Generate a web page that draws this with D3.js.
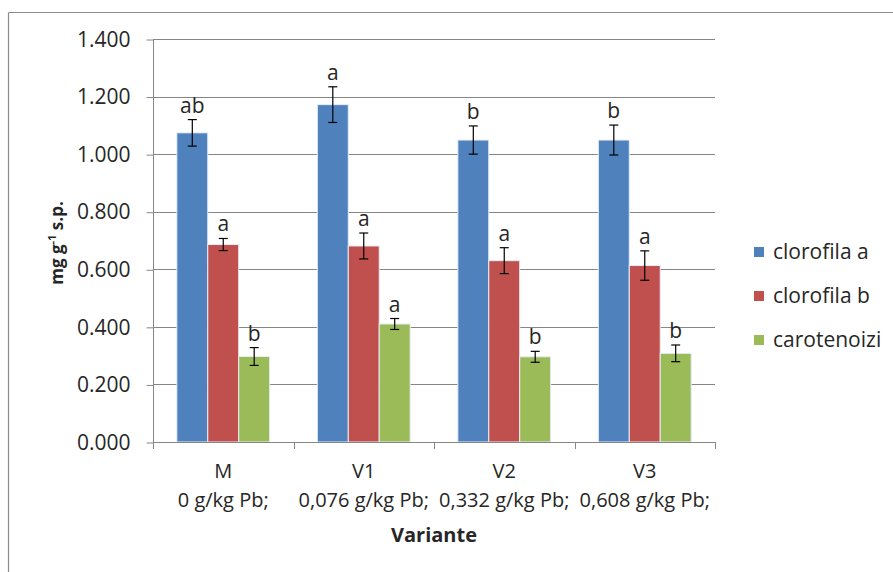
<!DOCTYPE html>
<html>
<head>
<meta charset="utf-8">
<script src="https://cdn.jsdelivr.net/npm/d3@7"></script>
<style>
  body { margin: 0; background: #fff; }
  svg { display: block; }
  text { font-family: "Open Sans", "Noto Sans", sans-serif; fill: #262626; }
</style>
</head>
<body>
<svg id="chart" width="893" height="572"></svg>
<script>
// Pigment content per treatment variant (mg g-1 s.p.)
const variants = ["M", "V1", "V2", "V3"];
const doses = ["0 g/kg Pb;", "0,076 g/kg Pb;", "0,332 g/kg Pb;", "0,608 g/kg Pb;"];
const seriesNames = ["clorofila a", "clorofila b", "carotenoizi"];
const seriesColors = ["#4F81BD", "#C0504D", "#9BBB59"];

const clorofilaA = [1.074, 1.172, 1.049, 1.049];
const clorofilaB = [0.686, 0.681, 0.630, 0.613];
const carotenoizi = [0.297, 0.410, 0.296, 0.308];

const errA = [0.046, 0.062, 0.049, 0.052];
const errB = [0.021, 0.045, 0.045, 0.051];
const errC = [0.031, 0.019, 0.019, 0.029];

const lettersA = ["ab", "a", "b", "b"];
const lettersB = ["a", "a", "a", "a"];
const lettersC = ["b", "a", "b", "b"];

const yTicks = [0, 0.2, 0.4, 0.6, 0.8, 1.0, 1.2, 1.4];

const values = [clorofilaA, clorofilaB, carotenoizi];
const errors = [errA, errB, errC];
const letters = [lettersA, lettersB, lettersC];

const svg = d3.select("#chart");

// chart area frame (top and left edges)
svg.append("line").attr("x1", 8.5).attr("x2", 893).attr("y1", 12.5).attr("y2", 12.5)
  .attr("stroke", "#8c8c8c").attr("stroke-width", 1.2);
svg.append("line").attr("x1", 8.5).attr("x2", 8.5).attr("y1", 12.5).attr("y2", 572)
  .attr("stroke", "#8c8c8c").attr("stroke-width", 1.2);

const plot = { left: 153, right: 715, top: 39, bottom: 442 };

const x = d3.scaleBand().domain(variants).range([plot.left, plot.right]).paddingInner(0).paddingOuter(0);
const xs = d3.scaleBand().domain(seriesNames).range([0, x.bandwidth()]).paddingInner(0).paddingOuter(0.77);
const y = d3.scaleLinear().domain([0, 1.4]).range([plot.bottom, plot.top]);

// gridlines
svg.append("g").selectAll("line").data(yTicks.filter(t => t > 0)).join("line")
  .attr("x1", plot.left).attr("x2", plot.right)
  .attr("y1", d => Math.round(y(d)) + 0.5).attr("y2", d => Math.round(y(d)) + 0.5)
  .attr("stroke", "#868686").attr("stroke-width", 1);

// y axis
const yAxis = d3.axisLeft(y).tickValues(yTicks).tickSize(7).tickPadding(16)
  .tickFormat(d => d3.format(".3f")(d));
const gy = svg.append("g").attr("transform", `translate(${plot.left + 0.5},0.5)`).call(yAxis);
gy.select(".domain").attr("stroke", "#868686").attr("d", `M0,${plot.top - 0.5}V${plot.bottom - 0.5}`);
gy.selectAll(".tick line").attr("stroke", "#868686");
gy.selectAll(".tick text").attr("font-size", 21).attr("fill", "#262626")
  .style("font-family", '"Open Sans", sans-serif');

// bars
const groups = svg.append("g").selectAll("g").data(variants).join("g")
  .attr("transform", d => `translate(${x(d)},0)`);

seriesNames.forEach((s, si) => {
  groups.append("rect")
    .attr("x", (d) => xs(s))
    .attr("width", xs.bandwidth())
    .attr("y", (d, i) => y(values[si][i]))
    .attr("height", (d, i) => y(0) - y(values[si][i]))
    .attr("fill", seriesColors[si])
    .attr("stroke", "#e6eef8").attr("stroke-width", 1);
});

// x axis
const xAxis = d3.axisBottom(x).tickSize(0).tickFormat("");
const gx = svg.append("g").attr("transform", `translate(0,${plot.bottom + 0.5})`).call(xAxis);
gx.select(".domain").attr("stroke", "#868686").attr("d", `M${plot.left},0H${plot.right}`);
gx.selectAll(".tick").remove();
// category boundary ticks
const bounds = variants.map(v => x(v)).concat([plot.right]);
svg.append("g").selectAll("line").data(bounds).join("line")
  .attr("x1", d => Math.round(d) + 0.5).attr("x2", d => Math.round(d) + 0.5)
  .attr("y1", plot.bottom).attr("y2", plot.bottom + 7)
  .attr("stroke", "#868686");

// category labels
const labels = svg.append("g").selectAll("text").data(variants).join("text")
  .attr("x", d => x(d) + x.bandwidth() / 2)
  .attr("text-anchor", "middle").attr("font-size", 20);
labels.append("tspan").attr("x", d => x(d) + x.bandwidth() / 2).attr("y", 478).text(d => d);
labels.append("tspan").attr("x", d => x(d) + x.bandwidth() / 2).attr("y", 507).text((d, i) => doses[i]);

// error bars and significance letters
seriesNames.forEach((s, si) => {
  const cx = (d) => xs(s) + xs.bandwidth() / 2;
  groups.append("line")
    .attr("x1", cx).attr("x2", cx)
    .attr("y1", (d, i) => y(values[si][i] + errors[si][i]))
    .attr("y2", (d, i) => y(values[si][i] - errors[si][i]))
    .attr("stroke", "#000").attr("stroke-width", 1.2);
  [1, -1].forEach(sign => {
    groups.append("line")
      .attr("x1", d => cx(d) - 4.5).attr("x2", d => cx(d) + 4.5)
      .attr("y1", (d, i) => y(values[si][i] + sign * errors[si][i]))
      .attr("y2", (d, i) => y(values[si][i] + sign * errors[si][i]))
      .attr("stroke", "#000").attr("stroke-width", 1.2);
  });
  groups.append("text")
    .attr("x", cx)
    .attr("y", (d, i) => y(values[si][i] + errors[si][i]) - 7)
    .attr("text-anchor", "middle").attr("font-size", 21)
    .text((d, i) => letters[si][i]);
});

// axis titles
svg.append("text").attr("x", (plot.left + plot.right) / 2).attr("y", 542)
  .attr("text-anchor", "middle").attr("font-size", 20).attr("font-weight", "bold")
  .text("Variante");

const yt = svg.append("text")
  .attr("transform", `translate(63,${243}) rotate(-90)`)
  .attr("text-anchor", "middle").attr("font-size", 17).attr("font-weight", "bold");
yt.append("tspan").text("mg g");
yt.append("tspan").attr("dy", -7).attr("font-size", 11).text("-1");
yt.append("tspan").attr("dy", 7).text(" s.p.");

// legend
const legend = svg.append("g").selectAll("g").data(seriesNames).join("g")
  .attr("transform", (d, i) => `translate(754,${252 + i * 44})`);
legend.append("rect").attr("x", 0).attr("y", -5).attr("width", 10).attr("height", 10)
  .attr("fill", (d, i) => seriesColors[i]);
legend.append("text").attr("x", 19).attr("y", 0).attr("dy", "0.35em")
  .attr("font-size", 21).text(d => d);
</script>
</body>
</html>
